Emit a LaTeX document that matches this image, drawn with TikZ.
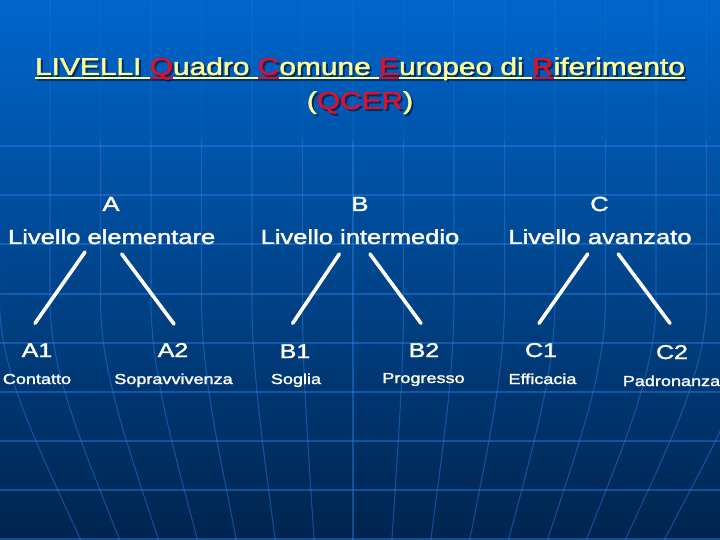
\documentclass[tikz,border=0pt]{standalone}
\usepackage{fontspec}
\setmainfont{Liberation Sans}
\newfontfamily\fatsans[FakeBold=1.6]{Liberation Sans}
\usepackage{graphicx}
\definecolor{ty}{HTML}{FFFF99}
\definecolor{tr}{HTML}{E0102A}
\definecolor{shd}{HTML}{001A40}
\definecolor{bgtop}{HTML}{0066CC}
\definecolor{bgmid}{HTML}{004FA0}
\definecolor{bgbot}{HTML}{00244E}
\definecolor{gridc}{HTML}{2A86EE}
\newcommand\wide[1]{\scalebox{1.25}[1]{#1}}
\newcommand\widet[1]{\scalebox{1.225}[1]{#1}}
\newcommand\ulp[2]{\setbox0\hbox{\color{#1}#2}\rlap{\color{#1}\rule[-4.5bp]{\wd0}{2.4bp}}\box0}
\newcommand\titleA[2]{\ulp{#1}{LIVELLI }\ulp{#2}{Q}\ulp{#1}{uadro }\ulp{#2}{C}\ulp{#1}{omune }\ulp{#2}{E}\ulp{#1}{uropeo di }\ulp{#2}{R}\ulp{#1}{iferimento}}
\newcommand\titleB[2]{{\color{#1}(}{\color{#2}QCER}{\color{#1})}}
\begin{document}
\begin{tikzpicture}[x=1bp,y=-1bp,
  gridline/.style={draw=gridc,opacity=0.42,line width=1.1bp},
  gridfaint/.style={draw=gridc,opacity=0.16,line width=1.1bp},
  title/.style={font=\fatsans\fontsize{24.5}{28}\selectfont,inner sep=0,anchor=base},
  lvl/.style={font=\fatsans\fontsize{20.5}{24}\selectfont,text=white,inner sep=0,anchor=base},
  sublvl/.style={font=\fatsans\fontsize{20}{24}\selectfont,text=white,inner sep=0,anchor=base},
  capt/.style={font=\fatsans\fontsize{14.5}{17}\selectfont,text=white,inner sep=0,anchor=base},
  conn/.style={draw=white,line width=3.6bp,line cap=round}]
\useasboundingbox (0,0) rectangle (720,540);
\shade[top color=bgtop,middle color=bgmid,bottom color=bgbot] (0,0) rectangle (720,540);
\begin{scope}
  \clip (0,0) rectangle (720,540);
  \foreach \k in {-1,...,14}{
    \pgfmathsetmacro\xo{50+50.5*\k}
    \pgfmathsetmacro\xm{353+(\xo-353)*0.9}
    \pgfmathsetmacro\xb{353+(\xo-353)*0.77}
    \draw[gridfaint] (\xo,0) -- (\xo,140);
    \draw[gridline] (\xo,140) -- (\xo,300) .. controls (\xo,370) and (\xm,440) .. (\xb,540);
  }
  \foreach \yy in {146,195,244,294,343,392,441,490,539}{
    \draw[gridline] (0,\yy) -- (720,\yy);
  }
\end{scope}
% title
\node[title,opacity=0.65] (T1s) at (362,77) {\widet{\titleA{shd}{shd}}};
\node[title] (T1) at (360,75) {\widet{\titleA{ty}{tr}}};
\node[title,opacity=0.65] (T2s) at (362,111) {\widet{\titleB{shd}{shd}}};
\node[title] (T2) at (360,109) {\widet{\titleB{ty}{tr}}};
% levels
\node[lvl] (A) at (111,211) {\wide{A}};
\node[lvl] (LA) at (111.7,244) {\wide{Livello elementare}};
\node[lvl] (B) at (360,211) {\wide{B}};
\node[lvl] (LB) at (360,244) {\wide{Livello intermedio}};
\node[lvl] (C) at (599.5,211) {\wide{C}};
\node[lvl] (LC) at (600,244) {\wide{Livello avanzato}};
% sublevels
\node[sublvl] (A1) at (37,357) {\wide{A1}};
\node[sublvl] (A2) at (173,357) {\wide{A2}};
\node[sublvl] (B1) at (295,358) {\wide{B1}};
\node[sublvl] (B2) at (424,357) {\wide{B2}};
\node[sublvl] (C1) at (541,357) {\wide{C1}};
\node[sublvl] (C2) at (672,359) {\wide{C2}};
\node[capt] (cA1) at (37,384) {\wide{Contatto}};
\node[capt] (cA2) at (173.5,384) {\wide{Sopravvivenza}};
\node[capt] (cB1) at (296,384) {\wide{Soglia}};
\node[capt] (cB2) at (423.5,383) {\wide{Progresso}};
\node[capt] (cC1) at (542.5,384) {\wide{Efficacia}};
\node[capt] (cC2) at (671.5,386) {\wide{Padronanza}};
% connectors
\draw[conn] ([shift={(-26.7,8)}]LA.base) -- ([shift={(-2,-33.7)}]A1.base);
\draw[conn] ([shift={(10,10)}]LA.base) -- ([shift={(1,-33)}]A2.base);
\draw[conn] ([shift={(-20.7,10)}]LB.base) -- ([shift={(-2.3,-34.7)}]B1.base);
\draw[conn] ([shift={(10,10)}]LB.base) -- ([shift={(-3,-33.7)}]B2.base);
\draw[conn] ([shift={(-12.3,10)}]LC.base) -- ([shift={(-2,-33.7)}]C1.base);
\draw[conn] ([shift={(18.3,10)}]LC.base) -- ([shift={(-2,-35.7)}]C2.base);
\end{tikzpicture}
\end{document}
